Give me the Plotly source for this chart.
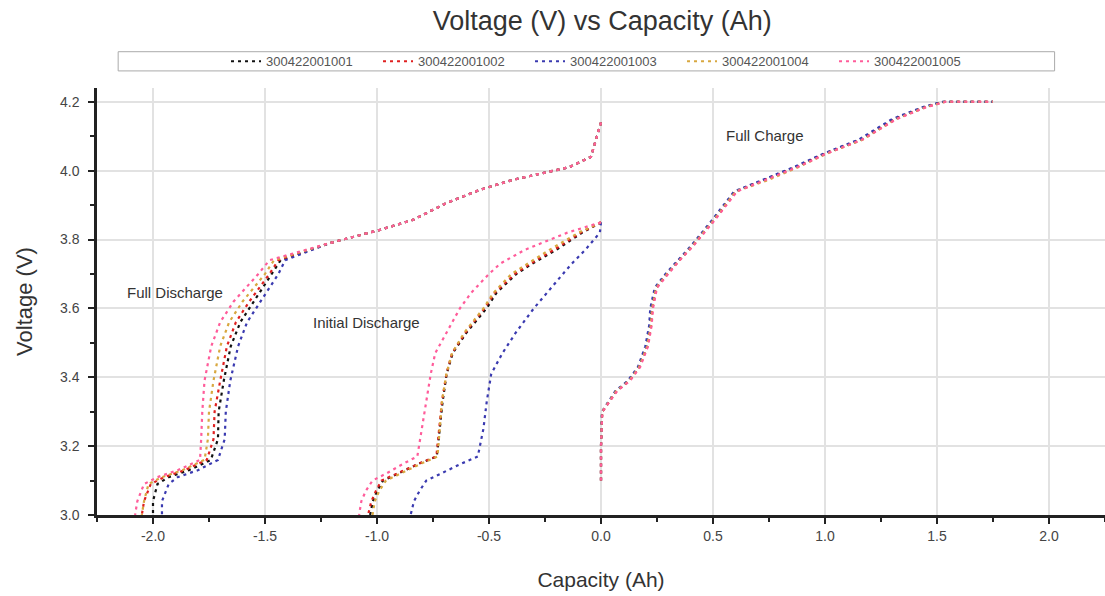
import plotly.graph_objects as go

# ---------------- data ----------------
series_names = ["300422001001", "300422001002", "300422001003", "300422001004", "300422001005"]
series_colors = ["#111111", "#e02020", "#3a3ab0", "#d8a840", "#ff5c9a"]

# Full charge (shared voltage, per-series capacity)
v_charge = [3.10, 3.20, 3.30, 3.36, 3.39, 3.43, 3.49, 3.55, 3.60, 3.66, 3.70, 3.74, 3.78,
            3.85, 3.94, 3.97, 4.01, 4.05, 4.09, 4.15, 4.185, 4.20, 4.20]
c_charge_1 = [0.0, 0.0, 0.005, 0.067, 0.124, 0.169, 0.204, 0.220, 0.225, 0.244, 0.293, 0.347, 0.404,
              0.493, 0.600, 0.716, 0.867, 1.000, 1.160, 1.310, 1.444, 1.530, 1.750]
c_charge_2 = [0.0, 0.0, 0.006, 0.070, 0.128, 0.172, 0.208, 0.224, 0.230, 0.248, 0.297, 0.350, 0.408,
              0.497, 0.605, 0.722, 0.872, 1.005, 1.165, 1.316, 1.450, 1.535, 1.750]
c_charge_3 = [0.0, 0.0, 0.004, 0.064, 0.120, 0.165, 0.198, 0.215, 0.220, 0.240, 0.288, 0.342, 0.400,
              0.488, 0.595, 0.710, 0.860, 0.995, 1.150, 1.300, 1.438, 1.525, 1.750]
c_charge_4 = [0.0, 0.0, 0.005, 0.068, 0.126, 0.170, 0.206, 0.222, 0.228, 0.246, 0.295, 0.349, 0.406,
              0.495, 0.602, 0.735, 0.880, 1.010, 1.168, 1.318, 1.452, 1.538, 1.750]
c_charge_5 = [0.0, 0.0, 0.006, 0.072, 0.130, 0.175, 0.210, 0.226, 0.232, 0.250, 0.300, 0.352, 0.410,
              0.500, 0.608, 0.725, 0.875, 1.008, 1.166, 1.320, 1.455, 1.540, 1.750]

# Full discharge (shared voltage, per-series capacity)
v_full_dis = [4.14, 4.04, 4.01, 3.99, 3.973, 3.944, 3.906, 3.857, 3.828, 3.79, 3.76, 3.74, 3.70,
              3.62, 3.56, 3.49, 3.39, 3.30, 3.22, 3.16, 3.13, 3.11, 3.09, 3.04, 3.00]
c_full_dis_1 = [0.0, -0.045, -0.142, -0.276, -0.395, -0.542, -0.689, -0.840, -0.987, -1.209, -1.342, -1.430, -1.470,
                -1.550, -1.610, -1.653, -1.684, -1.707, -1.710, -1.742, -1.840, -1.930, -1.980, -2.000, -2.000]
c_full_dis_2 = [0.0, -0.045, -0.142, -0.276, -0.395, -0.542, -0.689, -0.840, -0.987, -1.209, -1.350, -1.440, -1.480,
                -1.570, -1.630, -1.670, -1.700, -1.725, -1.730, -1.760, -1.860, -1.950, -2.010, -2.040, -2.050]
c_full_dis_3 = [0.0, -0.045, -0.142, -0.276, -0.395, -0.542, -0.689, -0.840, -0.987, -1.209, -1.330, -1.410, -1.440,
                -1.520, -1.580, -1.620, -1.655, -1.675, -1.680, -1.710, -1.800, -1.890, -1.930, -1.960, -1.960]
c_full_dis_4 = [0.0, -0.045, -0.142, -0.276, -0.395, -0.542, -0.689, -0.840, -0.987, -1.209, -1.360, -1.460, -1.500,
                -1.600, -1.660, -1.700, -1.730, -1.750, -1.755, -1.770, -1.870, -1.960, -2.020, -2.040, -2.050]
c_full_dis_5 = [0.0, -0.045, -0.142, -0.276, -0.395, -0.542, -0.689, -0.840, -0.987, -1.209, -1.370, -1.480, -1.530,
                -1.640, -1.700, -1.740, -1.770, -1.780, -1.785, -1.790, -1.890, -1.980, -2.040, -2.070, -2.080]

# Initial discharge (shared voltage, per-series capacity)
v_init_dis = [3.85, 3.82, 3.77, 3.73, 3.70, 3.645, 3.60, 3.53, 3.47, 3.41, 3.33, 3.25, 3.17,
              3.15, 3.12, 3.10, 3.07, 3.04, 3.00]
c_init_dis_1 = [0.0, -0.084, -0.200, -0.307, -0.378, -0.467, -0.511, -0.600, -0.662, -0.689, -0.707, -0.720, -0.733,
                -0.809, -0.911, -0.973, -1.000, -1.018, -1.031]
c_init_dis_2 = [0.0, -0.090, -0.210, -0.315, -0.385, -0.475, -0.520, -0.605, -0.665, -0.690, -0.710, -0.722, -0.735,
                -0.810, -0.915, -0.980, -1.005, -1.025, -1.040]
c_init_dis_3 = [0.0, -0.005, -0.070, -0.130, -0.170, -0.240, -0.300, -0.380, -0.440, -0.490, -0.510, -0.525, -0.550,
                -0.620, -0.720, -0.780, -0.810, -0.835, -0.850]
c_init_dis_4 = [0.0, -0.100, -0.230, -0.330, -0.400, -0.480, -0.525, -0.610, -0.665, -0.690, -0.710, -0.720, -0.730,
                -0.800, -0.900, -0.960, -0.990, -1.010, -1.020]
c_init_dis_5 = [0.0, -0.150, -0.340, -0.450, -0.500, -0.580, -0.630, -0.690, -0.740, -0.760, -0.780, -0.800, -0.820,
                -0.880, -0.960, -1.020, -1.050, -1.070, -1.080]

x_tick_vals = [-2.0, -1.5, -1.0, -0.5, 0.0, 0.5, 1.0, 1.5, 2.0]
x_tick_text = ["-2.0", "-1.5", "-1.0", "-0.5", "0.0", "0.5", "1.0", "1.5", "2.0"]
y_tick_vals = [3.0, 3.2, 3.4, 3.6, 3.8, 4.0, 4.2]
y_tick_text = ["3.0", "3.2", "3.4", "3.6", "3.8", "4.0", "4.2"]

labels = [("Full Charge", 0.73, 4.103), ("Full Discharge", -1.90, 3.645), ("Initial Discharge", -1.045, 3.56)]

charge_caps = [c_charge_1, c_charge_2, c_charge_3, c_charge_4, c_charge_5]
full_caps = [c_full_dis_1, c_full_dis_2, c_full_dis_3, c_full_dis_4, c_full_dis_5]
init_caps = [c_init_dis_1, c_init_dis_2, c_init_dis_3, c_init_dis_4, c_init_dis_5]

# ---------------- figure ----------------
fig = go.Figure()
for i, name in enumerate(series_names):
    xs = list(full_caps[i]) + [None] + list(init_caps[i]) + [None] + list(charge_caps[i])
    ys = list(v_full_dis) + [None] + list(v_init_dis) + [None] + list(v_charge)
    fig.add_trace(go.Scatter(
        x=xs, y=ys, mode="lines", name=name,
        line=dict(color=series_colors[i], width=2.2, dash="3px,4px"),
        connectgaps=False,
    ))

for text, xv, yv in labels:
    fig.add_annotation(x=xv, y=yv, text=text, showarrow=False,
                       font=dict(size=15, color="#333333", family="Liberation Sans"))

# legend box
fig.add_shape(type="rect", xref="paper", yref="paper", x0=0.021, x1=0.950, y0=1.040, y1=1.085,
              line=dict(color="#aaaaaa", width=1), fillcolor="rgba(0,0,0,0)")

fig.update_layout(
    width=1105, height=596,
    paper_bgcolor="white", plot_bgcolor="white",
    margin=dict(l=97, r=0, t=88, b=81),
    font=dict(family="Liberation Sans", color="#333333"),
    title=dict(text="Voltage (V) vs Capacity (Ah)", x=0.545, xanchor="center", y=0.966, yanchor="middle",
               font=dict(size=27, color="#333333")),
    showlegend=True,
    legend=dict(orientation="h", x=0.128, y=1.0625, xanchor="left", yanchor="middle",
                font=dict(size=13, color="#555555"), bgcolor="rgba(0,0,0,0)",
                entrywidth=107, entrywidthmode="pixels", itemwidth=30, tracegroupgap=0),
    xaxis=dict(range=[-2.25, 2.25], tickvals=x_tick_vals, ticktext=x_tick_text, automargin=False,
               showgrid=True, gridcolor="#e2e2e2", gridwidth=2, zeroline=False,
               showline=True, linecolor="#222222", linewidth=2.5,
               ticks="outside", ticklen=6, tickwidth=2, tickcolor="#222222",
               minor=dict(ticks="outside", ticklen=4, tickwidth=2, tickcolor="#222222", dtick=0.25, showgrid=False),
               tickfont=dict(size=14, color="#444444"),
               title=dict(text="Capacity (Ah)", font=dict(size=21, color="#333333"), standoff=30)),
    yaxis=dict(range=[3.0, 4.24], tickvals=y_tick_vals, ticktext=y_tick_text, automargin=False,
               showgrid=True, gridcolor="#e2e2e2", gridwidth=2, zeroline=False,
               showline=True, linecolor="#222222", linewidth=2.5,
               ticks="outside", ticklen=6, tickwidth=2, tickcolor="#222222", ticklabelstandoff=6,
               minor=dict(ticks="outside", ticklen=4, tickwidth=2, tickcolor="#222222", dtick=0.1, showgrid=False),
               tickfont=dict(size=14, color="#444444"),
               title=dict(text="Voltage (V)", font=dict(size=22, color="#333333"), standoff=22)),
)

fig.write_html("out.html", config={"displayModeBar": False},
               post_script="document.body.style.margin='0';document.body.style.overflow='hidden';")
